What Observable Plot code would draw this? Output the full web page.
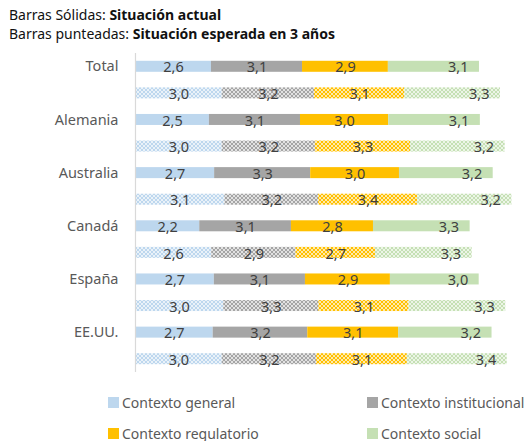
<!DOCTYPE html>
<html><head><meta charset="utf-8">
<script src="https://cdn.jsdelivr.net/npm/d3@7"></script>
<script src="https://cdn.jsdelivr.net/npm/@observablehq/plot@0.6"></script>
<style>
body{margin:0;background:#fff;font-family:"Noto Sans",sans-serif;width:531px;height:441px;overflow:hidden;position:relative}
#title{position:absolute;left:9px;top:5px;font-size:14px;line-height:19px;color:#111}
#chart{position:absolute;left:0;top:44px}
.lg{position:absolute;font-size:14px;color:#595959;display:flex;align-items:center;white-space:nowrap}
.sw{width:11px;height:11px;margin-right:3px;display:inline-block}
</style></head><body>
<div id="title"><div>Barras Sólidas: <b>Situación actual</b></div><div>Barras punteadas: <b>Situación esperada en 3 años</b></div></div>
<div id="chart"></div>
<div id="legend"></div>
<script>
const countries = ["Total","Alemania","Australia","Canadá","España","EE.UU."];
const contexts = ["Contexto general","Contexto institucional","Contexto regulatorio","Contexto social"];
const colors = ["#bdd7ee","#a5a5a5","#ffc000","#c5e0b4"];
// Situación actual (solid bars)
const actual = [
  [2.60,3.12,2.94,3.12],
  [2.53,3.12,3.02,3.14],
  [2.71,3.29,3.04,3.21],
  [2.20,3.14,2.81,3.31],
  [2.70,3.12,2.91,3.04],
  [2.66,3.24,3.11,3.20]
];
// Situación esperada en 3 años (hatched bars)
const expected = [
  [2.97,3.16,3.09,3.28],
  [2.97,3.19,3.26,3.24],
  [3.06,3.21,3.39,3.23],
  [2.61,2.89,2.72,3.31],
  [3.02,3.26,3.09,3.31],
  [2.97,3.23,3.11,3.42]
];

const rows = [];
const segs = [];
countries.forEach((c, i) => {
  [["a", actual[i]], ["e", expected[i]]].forEach(([t, vals]) => {
    const row = c + "|" + t;
    rows.push(row);
    let acc = 0;
    vals.forEach((v, k) => {
      segs.push({row, k, x1: acc, x2: acc + v, v,
        fill: t === "a" ? colors[k] : `url(#pat${k})`,
        label: v.toFixed(1).replace(".", ",")});
      acc += v;
    });
  });
});

const pxPerUnit = 29.2, xmax = 13, mLeft = 135;
const chart = Plot.plot({
  width: 531, height: 340,
  marginLeft: mLeft, marginRight: 531 - mLeft - pxPerUnit * xmax,
  marginTop: 9, marginBottom: 12,
  style: {fontFamily: "Noto Sans", fontSize: "14px", background: "white"},
  x: {domain: [0, xmax], axis: null},
  y: {type: "band", domain: rows, paddingInner: 0.586, paddingOuter: 0.293, round: false, axis: null},
  color: {type: "identity"},
  marks: [
    Plot.barX(segs, {x1: "x1", x2: "x2", y: "row", fill: d => d.fill}),
    Plot.ruleX([0], {stroke: "#d9d9d9", strokeWidth: 1.2}),
    Plot.text(segs.filter(d => d.k < 3), {x: d => (d.x1 + d.x2) / 2, y: "row", text: "label", fill: "#404040", fontSize: 14.5, dy: 1}),
    Plot.text(segs.filter(d => d.k === 3), {x: "x2", y: "row", text: "label", fill: "#404040", fontSize: 14.5, textAnchor: "end", dx: -11, dy: 1}),
    Plot.text(countries, {x: () => 0, y: c => c + "|a", text: c => c, textAnchor: "end", dx: -17, fill: "#595959", fontSize: 14.5})
  ]
});
const defs = d3.select(chart).insert("defs", ":first-child");
colors.forEach((c, i) => {
  const p = defs.append("pattern").attr("id", "pat" + i).attr("width", 4).attr("height", 4).attr("patternUnits", "userSpaceOnUse");
  p.append("rect").attr("width", 4).attr("height", 4).attr("fill", c);
  p.append("path").attr("d", "M2,0L4,2L2,4L0,2Z").attr("fill", "none").attr("stroke", "#fff").attr("stroke-width", 0.8).attr("stroke-opacity", 0.85);
});
document.getElementById("chart").appendChild(chart);

const lgPos = [[108, 402], [367, 402], [108, 433], [367, 433]];
const lg = document.getElementById("legend");
contexts.forEach((name, i) => {
  const d = document.createElement("div");
  d.className = "lg";
  d.style.left = lgPos[i][0] + "px";
  d.style.top = (lgPos[i][1] - 10) + "px";
  d.style.height = "20px";
  d.innerHTML = `<span class="sw" style="background:${colors[i]}"></span>${name}`;
  lg.appendChild(d);
});
</script>
</body></html>
